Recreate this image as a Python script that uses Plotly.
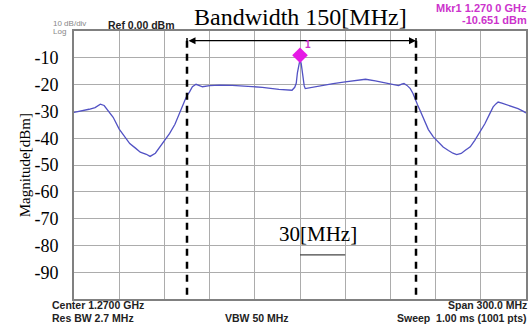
import plotly.graph_objects as go

# ---------------- data ----------------
center_mhz = 1270.0
span_mhz = 300.0
freq_offset_mhz = [-150, -145, -140, -136, -132.5, -130, -127, -124, -120, -116, -113, -109,
                   -106, -102, -99.5, -96, -93, -90, -86.5, -83, -80, -77.5, -75.5, -73.3,
                   -71.4, -69, -67, -64.7, -60, -53.5, -45, -36, -25, -14, -5.3, -3.5, -2.5,
                   -1.7, -0.8, 0, 0.8, 1.8, 2.8, 3.5, 8, 14.5, 22, 30, 37, 43.5, 50, 58.8,
                   65.4, 67.5, 69, 71, 73.2, 75, 76.5, 78, 80, 83, 85.2, 88.5, 92, 95, 98.5,
                   101.5, 104, 107, 109.5, 113, 116, 119.5, 122.7, 125.5, 128.2, 130, 131.5,
                   134, 138, 141, 144.7, 148, 150]
magnitude_dbm = [-30.4, -29.9, -29.2, -28.6, -27.3, -27.8, -29.8, -32.2, -36.6, -39.5, -42.0, -43.8,
                 -45.2, -46.0, -46.8, -45.6, -43.3, -41.0, -38.2, -34.8, -30.7, -27.3, -24.6, -22.7,
                 -20.8, -19.9, -20.2, -20.8, -20.4, -20.2, -20.3, -20.6, -21.0, -21.8, -22.1, -21.0, -19.5,
                 -15.5, -12.0, -10.651, -12.2, -16.5, -20.5, -21.5, -21.0, -20.2, -19.6, -19.0, -18.4, -18.0, -18.6, -19.7,
                 -20.4, -19.8, -19.6, -20.3, -21.5, -23.3, -25.6, -27.5, -30.0, -34.0, -36.8, -39.5, -41.6, -43.3, -44.6,
                 -45.6, -46.1, -45.7, -44.6, -43.2, -40.8, -37.8, -34.6, -31.4, -28.3, -27.2, -26.5,
                 -26.9, -27.7, -28.1, -29.0, -29.9, -30.6]
marker_freq_mhz = 1270.0
marker_dbm = -10.651
bw_edges_mhz = [1195.0, 1347.0]
scale_bar_mhz = [1270.0, 1300.0]
ytick_vals = [-10, -20, -30, -40, -50, -60, -70, -80, -90]
ytick_text = ["-10", "-20", "-30", "-40", "-50", "-60", "-70", "-80", "-90"]

freq_mhz = [center_mhz + f for f in freq_offset_mhz]
x0 = center_mhz - span_mhz / 2
x1 = center_mhz + span_mhz / 2

SERIF = "Liberation Serif, Times New Roman, serif"
SANS = "Liberation Sans, Arial, sans-serif"
MAG = "#cc33cc"

fig = go.Figure()
fig.add_trace(go.Scatter(x=freq_mhz, y=magnitude_dbm, mode="lines",
                         line=dict(color="#5252c4", width=1.3), hoverinfo="skip"))
fig.add_trace(go.Scatter(x=[marker_freq_mhz], y=[marker_dbm + 1.6], mode="markers",
                         marker=dict(symbol="diamond", size=12, color="#e619e6"), hoverinfo="skip"))

# bandwidth dashed lines
for xe in bw_edges_mhz:
    fig.add_shape(type="line", x0=xe, x1=xe, y0=-3.6, y1=-100, xref="x", yref="y",
                  line=dict(color="black", width=2.5, dash="7px,6px"))
# bandwidth arrow
fig.add_annotation(x=bw_edges_mhz[1], y=-3.6, ax=bw_edges_mhz[0], ay=-3.6, axref="x", ayref="y",
                   xref="x", yref="y", showarrow=True, arrowhead=2, arrowside="end+start",
                   arrowsize=1, arrowwidth=1.4, arrowcolor="black", text="")
for xe in bw_edges_mhz:
    fig.add_shape(type="line", x0=xe, x1=xe, y0=-2.6, y1=-4.6, xref="x", yref="y",
                  line=dict(color="black", width=1.5))
fig.add_annotation(x=center_mhz, y=1.0, xref="x", yref="paper", yanchor="middle",
                   text="Bandwidth 150[MHz]", showarrow=False,
                   font=dict(family=SERIF, size=24, color="black"), yshift=14)

# scale bar
fig.add_shape(type="line", x0=scale_bar_mhz[0], x1=scale_bar_mhz[1], y0=-83.5, y1=-83.5,
              xref="x", yref="y", line=dict(color="#444444", width=1.3))
fig.add_annotation(x=(scale_bar_mhz[0] + scale_bar_mhz[1]) / 2 - 3, y=-75.8, xref="x", yref="y",
                   text="30[MHz]", showarrow=False, font=dict(family=SERIF, size=21, color="black"))

# marker label
fig.add_annotation(x=marker_freq_mhz, y=marker_dbm + 5.8, xref="x", yref="y", text="<b>1</b>",
                   showarrow=False, xshift=8, font=dict(family=SANS, size=10, color=MAG))

# y-axis title
fig.add_annotation(x=-0.13, y=0.5, xref="paper", yref="paper", text="Magnitude[dBm]",
                   textangle=-90, showarrow=False, font=dict(family=SERIF, size=15, color="black"))


def px_ann(px, py, text, size, color, anchor="left", bold=True, family=SANS):
    fig.add_annotation(x=(px - 74) / 454, y=(299 - py) / 268, xref="paper", yref="paper",
                       xanchor=anchor, yanchor="middle", showarrow=False,
                       text=("<b>%s</b>" % text) if bold else text,
                       font=dict(family=family, size=size, color=color))


px_ann(51, 24, "10 dB/div", 8, "#888888", bold=False)
px_ann(51, 32, "Log", 8, "#888888", bold=False)
px_ann(106, 25, "Ref 0.00 dBm", 10.5, "#222222")
px_ann(531, 8, "Mkr1 1.270 0 GHz", 11, MAG, anchor="right")
px_ann(531, 20, "-10.651 dBm", 11, MAG, anchor="right")
px_ann(50, 305, "Center 1.2700 GHz", 10.5, "#222222")
px_ann(50, 318, "Res BW 2.7 MHz", 10.5, "#222222")
px_ann(258, 318, "VBW 50 MHz", 10.5, "#222222", anchor="center")
px_ann(531, 305, "Span 300.0 MHz", 10.5, "#222222", anchor="right")
px_ann(531, 318, "Sweep &nbsp;1.00 ms (1001 pts)", 10.5, "#222222", anchor="right")

fig.update_xaxes(range=[x0, x1], dtick=span_mhz / 10, tick0=x0, showticklabels=False, ticks="",
                 showgrid=True, gridcolor="#acacac", gridwidth=1, zeroline=False,
                 showline=True, linecolor="#808080", linewidth=2, mirror=True)
fig.update_yaxes(range=[-100, 0], tickvals=ytick_vals, ticktext=ytick_text, ticks="",
                 ticklabelstandoff=10,
                 tickfont=dict(family=SERIF, size=18, color="black"),
                 showgrid=True, gridcolor="#acacac", gridwidth=1, zeroline=False,
                 showline=True, linecolor="#808080", linewidth=2, mirror=True)
fig.update_layout(width=532, height=324, margin=dict(l=74, r=4, t=31, b=25),
                  paper_bgcolor="white", plot_bgcolor="white", showlegend=False)

fig.write_html("out.html")
